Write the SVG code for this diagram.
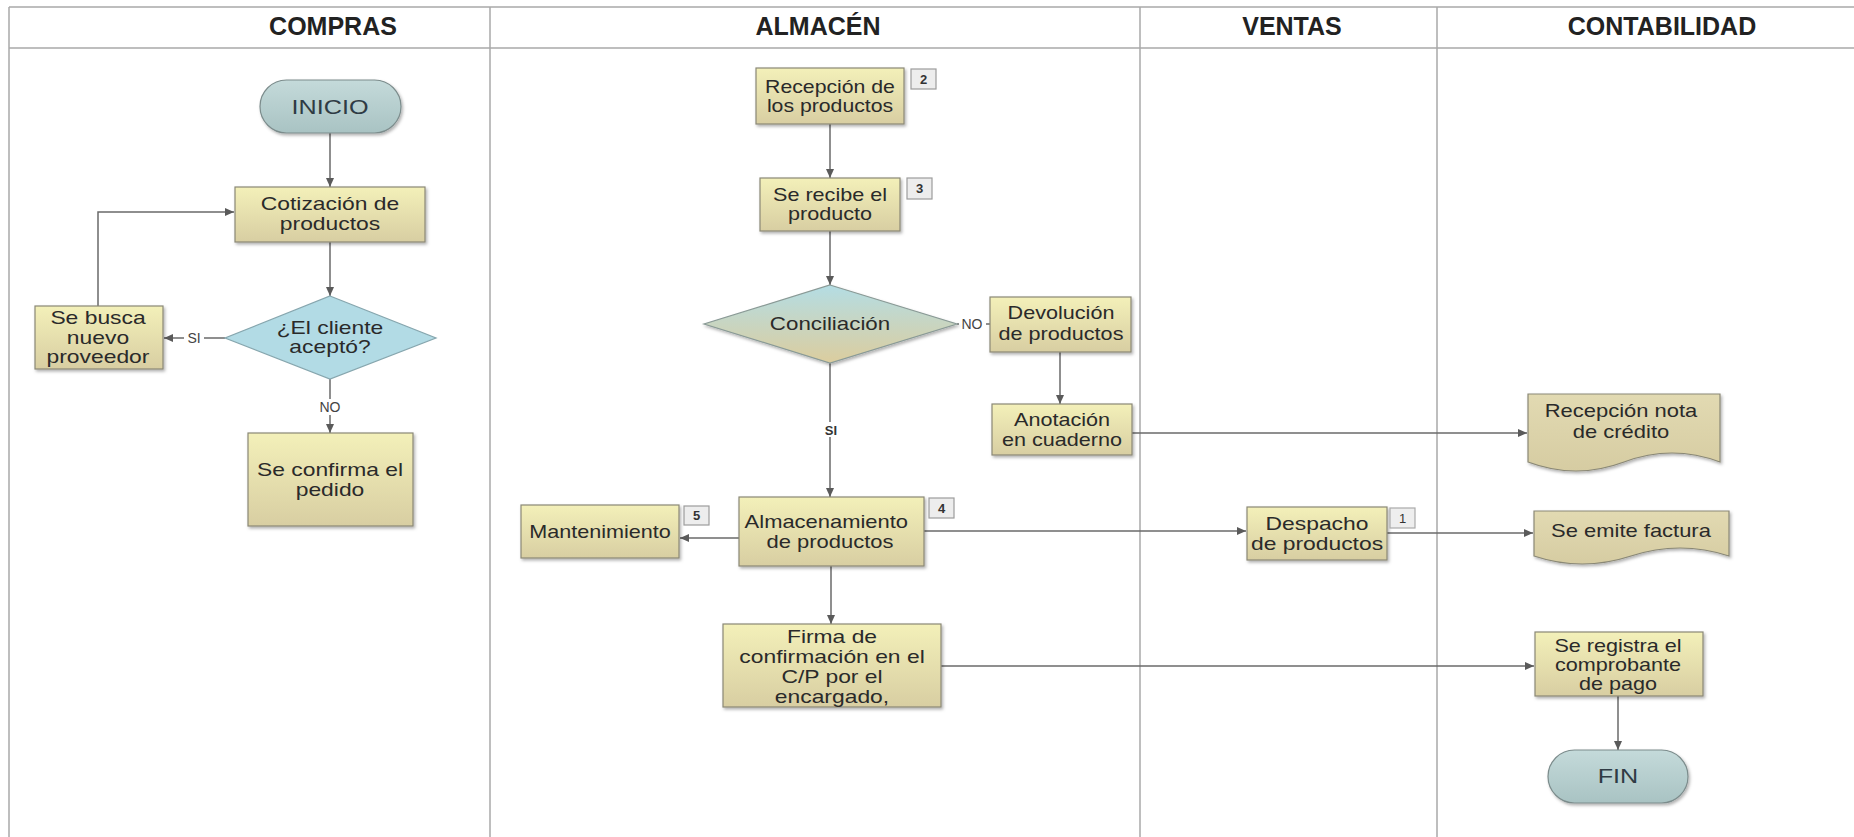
<svg xmlns="http://www.w3.org/2000/svg" width="1854" height="837" viewBox="0 0 1854 837">
<defs>
<linearGradient id="gBox" x1="0" y1="0" x2="0" y2="1"><stop offset="0" stop-color="#f3f0b9"/><stop offset="1" stop-color="#d8cea2"/></linearGradient>
<linearGradient id="gDoc" x1="0" y1="0" x2="0" y2="1"><stop offset="0" stop-color="#e2dab2"/><stop offset="1" stop-color="#d6cca2"/></linearGradient>
<linearGradient id="gTerm" x1="0" y1="0" x2="0" y2="1"><stop offset="0" stop-color="#c4dada"/><stop offset="1" stop-color="#a9c3c3"/></linearGradient>
<linearGradient id="gConc" x1="0" y1="0" x2="0" y2="1"><stop offset="0" stop-color="#b4dde4"/><stop offset="1" stop-color="#dccd9e"/></linearGradient>
<filter id="sh" x="-10%" y="-10%" width="130%" height="140%"><feDropShadow dx="1.5" dy="2" stdDeviation="1.5" flood-color="#000" flood-opacity="0.3"/></filter>
<marker id="ah" markerWidth="10" markerHeight="8" refX="9" refY="4" orient="auto" markerUnits="userSpaceOnUse"><path d="M0,0 L9,4 L0,8 Z" fill="#5a5a5a"/></marker>
<style>
.lane{stroke:#a9a9a9;stroke-width:1.5;fill:none}
.hdr{font-family:"Liberation Sans",Arial,sans-serif;font-weight:bold;font-size:25px;fill:#222;text-anchor:middle}
.box{fill:url(#gBox);stroke:#8a8876;stroke-width:1.2;filter:url(#sh)}
.doc{fill:url(#gDoc);stroke:#8a8876;stroke-width:1.2;filter:url(#sh)}
.term{fill:url(#gTerm);stroke:#7c8c8c;stroke-width:1.2;filter:url(#sh)}
.dia1{fill:#b2dbe5;stroke:#86a6ae;stroke-width:1.2}
.dia2{fill:url(#gConc);stroke:#8a9a96;stroke-width:1.2;filter:url(#sh)}
.t{font-family:"Liberation Sans",Arial,sans-serif;font-size:18px;fill:#2a2a2a;text-anchor:middle}
.tt{font-family:"Liberation Sans",Arial,sans-serif;font-size:20px;fill:#2f3b44;text-anchor:middle}
.conn{stroke:#6a6a6a;stroke-width:1.5;fill:none}
.arr{marker-end:url(#ah)}
.bdg{fill:#ededed;stroke:#9c9c9c;stroke-width:1.2}
.bt{font-family:"Liberation Sans",Arial,sans-serif;font-size:13px;font-weight:bold;fill:#333;text-anchor:middle}
.lbl{font-family:"Liberation Sans",Arial,sans-serif;font-size:14px;fill:#444;text-anchor:middle}
.lblb{font-family:"Liberation Sans",Arial,sans-serif;font-size:13px;font-weight:bold;fill:#333;text-anchor:middle}
</style>
</defs>
<rect x="0" y="0" width="1854" height="837" fill="#fff"/>

<g id="lanes">
<line class="lane" x1="9" y1="7" x2="1854" y2="7"/>
<line class="lane" x1="9" y1="48" x2="1854" y2="48"/>
<line class="lane" x1="9" y1="7" x2="9" y2="837"/>
<line class="lane" x1="490" y1="7" x2="490" y2="837"/>
<line class="lane" x1="1140" y1="7" x2="1140" y2="837"/>
<line class="lane" x1="1437" y1="7" x2="1437" y2="837"/>
<text class="hdr" x="333" y="35">COMPRAS</text>
<text class="hdr" x="818" y="35">ALMACÉN</text>
<text class="hdr" x="1292" y="35">VENTAS</text>
<text class="hdr" x="1662" y="35">CONTABILIDAD</text>
</g>

<g id="connectors">
<path class="conn arr" d="M330,133 V187"/>
<path class="conn arr" d="M330,242 V296"/>
<path class="conn arr" d="M225,338 H164"/>
<path class="conn arr" d="M98,306 V212 H234"/>
<path class="conn arr" d="M330,379 V433"/>
<path class="conn arr" d="M830,124 V178"/>
<path class="conn arr" d="M830,231 V285"/>
<path class="conn" d="M957,324 H990"/>
<path class="conn arr" d="M1060,352 V404"/>
<path class="conn arr" d="M830,363 V497"/>
<path class="conn arr" d="M739,538 H680"/>
<path class="conn arr" d="M924,531 H1246"/>
<path class="conn arr" d="M831,566 V624"/>
<path class="conn arr" d="M1132,433 H1527"/>
<path class="conn arr" d="M1387,533 H1533"/>
<path class="conn arr" d="M941,666 H1534"/>
<path class="conn arr" d="M1618,696 V750"/>
<rect x="184" y="330" width="20" height="16" fill="#fff"/>
<text class="lbl" x="194" y="343">SI</text>
<rect x="315" y="399" width="30" height="16" fill="#fff"/>
<text class="lbl" x="330" y="412">NO</text>
<rect x="959" y="316" width="27" height="16" fill="#fff"/>
<text class="lbl" x="972" y="329">NO</text>
<rect x="822" y="422" width="18" height="15" fill="#fff"/>
<text class="lblb" x="831" y="435">SI</text>
</g>

<g id="inicio">
<rect class="term" x="260" y="80" width="141" height="53" rx="26.5"/>
<text class="tt" transform="matrix(1.26 0 0 1 330 0)" x="0" y="114">INICIO</text>
</g>

<g id="cotizacion">
<rect class="box" x="235" y="187" width="190" height="55"/>
<text class="t" transform="matrix(1.27 0 0 1 330 0)"><tspan x="0" y="210">Cotización de</tspan><tspan x="0" y="230">productos</tspan></text>
</g>

<g id="cliente-acepto">
<polygon class="dia1" points="330,296 436,338 330,379 225,338"/>
<text class="t" transform="matrix(1.27 0 0 1 330 0)"><tspan x="0" y="334">¿El cliente</tspan><tspan x="0" y="353">aceptó?</tspan></text>
</g>

<g id="nuevo-proveedor">
<rect class="box" x="35" y="306" width="128" height="63"/>
<text class="t" transform="matrix(1.27 0 0 1 98 0)"><tspan x="0" y="324">Se busca</tspan><tspan x="0" y="344">nuevo</tspan><tspan x="0" y="363">proveedor</tspan></text>
</g>

<g id="confirma-pedido">
<rect class="box" x="248" y="433" width="165" height="93"/>
<text class="t" transform="matrix(1.27 0 0 1 330 0)"><tspan x="0" y="476">Se confirma el</tspan><tspan x="0" y="496">pedido</tspan></text>
</g>

<g id="recepcion-productos">
<rect class="box" x="756" y="68" width="148" height="56"/>
<text class="t" transform="matrix(1.18 0 0 1 830 0)"><tspan x="0" y="93">Recepción de</tspan><tspan x="0" y="112">los productos</tspan></text>
<rect class="bdg" x="911" y="69" width="25" height="20"/>
<text class="bt" x="923.5" y="84">2</text>
</g>

<g id="recibe-producto">
<rect class="box" x="760" y="178" width="140" height="53"/>
<text class="t" transform="matrix(1.2 0 0 1 830 0)"><tspan x="0" y="201">Se recibe el</tspan><tspan x="0" y="220">producto</tspan></text>
<rect class="bdg" x="907" y="178" width="25" height="21"/>
<text class="bt" x="919.5" y="193">3</text>
</g>

<g id="conciliacion">
<polygon class="dia2" points="830,285 957,324 830,363 704,324"/>
<text class="t" transform="matrix(1.24 0 0 1 830 0)" x="0" y="330">Conciliación</text>
</g>

<g id="devolucion">
<rect class="box" x="990" y="297" width="141" height="55"/>
<text class="t" transform="matrix(1.2 0 0 1 1061 0)"><tspan x="0" y="319">Devolución</tspan><tspan x="0" y="340">de productos</tspan></text>
</g>

<g id="anotacion">
<rect class="box" x="992" y="404" width="140" height="51"/>
<text class="t" transform="matrix(1.2 0 0 1 1062 0)"><tspan x="0" y="426">Anotación</tspan><tspan x="0" y="446">en cuaderno</tspan></text>
</g>

<g id="almacenamiento">
<rect class="box" x="739" y="497" width="185" height="69"/>
<text class="t" transform="matrix(1.22 0 0 1 830 0)"><tspan x="-3" y="528">Almacenamiento</tspan><tspan x="0" y="548">de productos</tspan></text>
<rect class="bdg" x="929" y="498" width="25" height="20"/>
<text class="bt" x="941.5" y="513">4</text>
</g>

<g id="mantenimiento">
<rect class="box" x="521" y="505" width="158" height="53"/>
<text class="t" transform="matrix(1.2 0 0 1 600 0)" x="0" y="538">Mantenimiento</text>
<rect class="bdg" x="684" y="506" width="25" height="19"/>
<text class="bt" x="696.5" y="520">5</text>
</g>

<g id="firma">
<rect class="box" x="723" y="624" width="218" height="83"/>
<text class="t" transform="matrix(1.27 0 0 1 832 0)"><tspan x="0" y="643">Firma de</tspan><tspan x="0" y="663">confirmación en el</tspan><tspan x="0" y="683">C/P por el</tspan><tspan x="0" y="703">encargado,</tspan></text>
</g>

<g id="despacho">
<rect class="box" x="1247" y="507" width="140" height="53"/>
<text class="t" transform="matrix(1.27 0 0 1 1317 0)"><tspan x="0" y="530">Despacho</tspan><tspan x="0" y="550">de productos</tspan></text>
<rect class="bdg" x="1390" y="508" width="25" height="20" style="fill:#eeeeee;stroke:#aaa"/>
<text class="bt" x="1402.5" y="523" style="font-weight:normal">1</text>
</g>

<g id="recepcion-nota">
<path class="doc" d="M1528,394 H1720 V462 Q1672,444 1624,462 T1528,462 Z"/>
<text class="t" transform="matrix(1.22 0 0 1 1621 0)"><tspan x="0" y="417">Recepción nota</tspan><tspan x="0" y="438">de crédito</tspan></text>
</g>

<g id="emite-factura">
<path class="doc" d="M1534,511 H1729 V556 Q1680,540 1631,556 T1534,556 Z"/>
<text class="t" transform="matrix(1.22 0 0 1 1631 0)" x="0" y="537">Se emite factura</text>
</g>

<g id="registra-comprobante">
<rect class="box" x="1535" y="632" width="168" height="64"/>
<text class="t" transform="matrix(1.2 0 0 1 1618 0)"><tspan x="0" y="652">Se registra el</tspan><tspan x="0" y="671">comprobante</tspan><tspan x="0" y="690">de pago</tspan></text>
</g>

<g id="fin">
<rect class="term" x="1548" y="750" width="140" height="53" rx="26.5"/>
<text class="tt" transform="matrix(1.26 0 0 1 1618 0)" x="0" y="783">FIN</text>
</g>
</svg>
